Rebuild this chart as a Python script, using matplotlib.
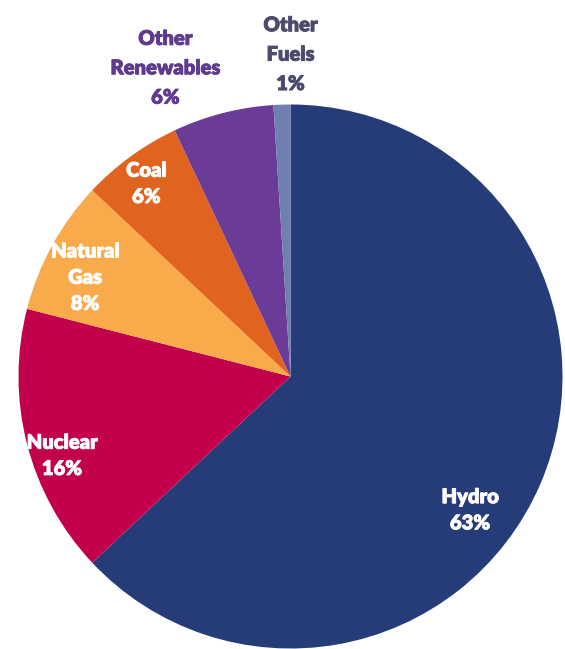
import matplotlib
matplotlib.use('Agg')
import matplotlib.pyplot as plt
import matplotlib.patheffects as pe

plt.rcParams['font.family'] = ['Lato', 'DejaVu Sans']

sources = ['Hydro', 'Nuclear', 'Natural Gas', 'Coal', 'Other Renewables', 'Other Fuels']
shares = [63, 16, 8, 6, 6, 1]
colors = ['#263c79', '#c3004c', '#f9aa4a', '#e0631f', '#6a3c97', '#6f7fb0']

# label text, position (pie radius = 1), colour
labels = ['Hydro\n63%', 'Nuclear\n16%', 'Natural\nGas\n8%', 'Coal\n6%',
          'Other\nRenewables\n6%', 'Other\nFuels\n1%']
label_pos = [(0.66, -0.49), (-0.84, -0.29), (-0.755, 0.365), (-0.53, 0.71),
             (-0.46, 1.135), (0.0, 1.185)]
label_colors = ['white', 'white', 'white', 'white', '#5f3a8f', '#4b4c6c']

fig = plt.figure(figsize=(5.65, 6.49), dpi=100)
ax = fig.add_axes([0, 0, 1, 1])

ax.pie(shares, colors=colors, startangle=90, counterclock=False,
       radius=1, wedgeprops=dict(linewidth=0))

for txt, (x, y), c in zip(labels, label_pos, label_colors):
    ls = 1.65 if txt.startswith('Other') else 1.45
    t = ax.text(x, y, txt, ha='center', va='center', color=c,
                fontsize=14.5, fontweight='heavy', linespacing=ls)
    t.set_path_effects([pe.withStroke(linewidth=0.6, foreground=c)])

ax.set_xlim(-290.5 / 272, (565 - 290.5) / 272)
ax.set_ylim(-272.5 / 272, 376.5 / 272)
ax.set_aspect('auto')
ax.axis('off')

fig.savefig('out.png', dpi=100)
